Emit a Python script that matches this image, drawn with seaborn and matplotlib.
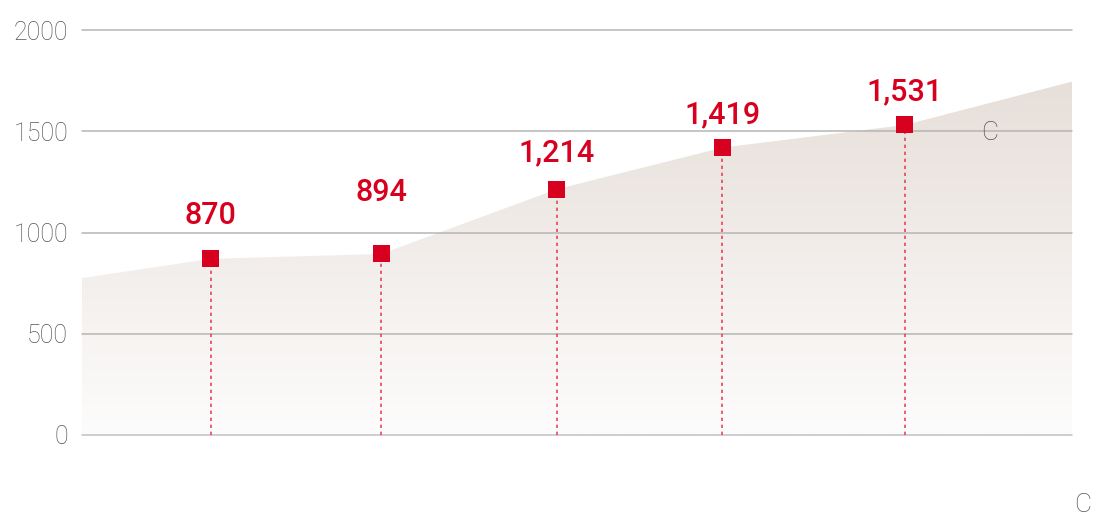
import numpy as np
import pandas as pd
import seaborn as sns
import matplotlib.pyplot as plt
from matplotlib.colors import LinearSegmentedColormap

# values
point_x = [0.74, 1.72, 2.73, 3.68, 4.73]
point_y = [870, 894, 1214, 1419, 1531]
point_labels = ['870', '894', '1,214', '1,419', '1,531']
area_x = [0, 0.74, 1.72, 2.73, 3.68, 4.73, 5.69]
area_y = [775, 870, 894, 1214, 1419, 1531, 1745]
y_ticks = [0, 500, 1000, 1500, 2000]

red = '#d7001e'
label_offsets = [31, 44, 26, 24, 24]

sns.set_theme(style='white')
plt.rcParams['font.family'] = ['Roboto', 'DejaVu Sans']

fig = plt.figure(figsize=(10.96, 5.28), dpi=100)
ax = fig.add_axes([82 / 1096, 93 / 528, 990 / 1096, 405 / 528])

# gradient area
poly = ax.fill_between(area_x, area_y, 0, color='none', lw=0, zorder=1)
cmap = LinearSegmentedColormap.from_list('beige', ['#fdfcfc', '#e7dfd9'])
grad = np.linspace(0, 1, 256).reshape(-1, 1)
img = ax.imshow(grad, cmap=cmap, origin='lower', aspect='auto',
                extent=[0, max(area_x), 0, max(area_y)], zorder=1)
img.set_clip_path(poly.get_paths()[0], transform=ax.transData)

for yv in y_ticks:
    ax.axhline(yv, color='#b5b5b5' if yv else '#c0c0c0', lw=1.1, zorder=2, clip_on=False)

df = pd.DataFrame({'x': point_x, 'y': point_y})
ax.vlines(df['x'], 0, df['y'], colors='#e8465a', linestyles=(0, (2, 2.2)), lw=1.2, zorder=3)
sns.scatterplot(data=df, x='x', y='y', marker='s', s=150, color=red,
                edgecolor='none', zorder=4, ax=ax)

for xv, yv, lab, off in zip(point_x, point_y, point_labels, label_offsets):
    ax.annotate(lab, (xv, yv), xytext=(0, off), textcoords='offset points',
                ha='center', va='center', color=red, fontsize=22, fontweight='medium')

ax.set_xlim(0, max(area_x))
ax.set_ylim(0, 2000)
ax.set_yticks(y_ticks)
ax.set_xticks([])
ax.set_xlabel('')
ax.set_ylabel('')
ax.tick_params(axis='y', length=0, pad=10, labelsize=18, labelcolor='#555555')
for lab in ax.get_yticklabels():
    lab.set_fontweight('light')
for s in ax.spines.values():
    s.set_visible(False)

fig.text(990 / 1096, 1 - 133 / 528, 'C', ha='center', va='center', fontsize=19,
         color='#555555', fontweight='light')
fig.text(1083 / 1096, 1 - 505 / 528, 'C', ha='center', va='center', fontsize=19,
         color='#555555', fontweight='light')

fig.savefig('out.png', dpi=100)
